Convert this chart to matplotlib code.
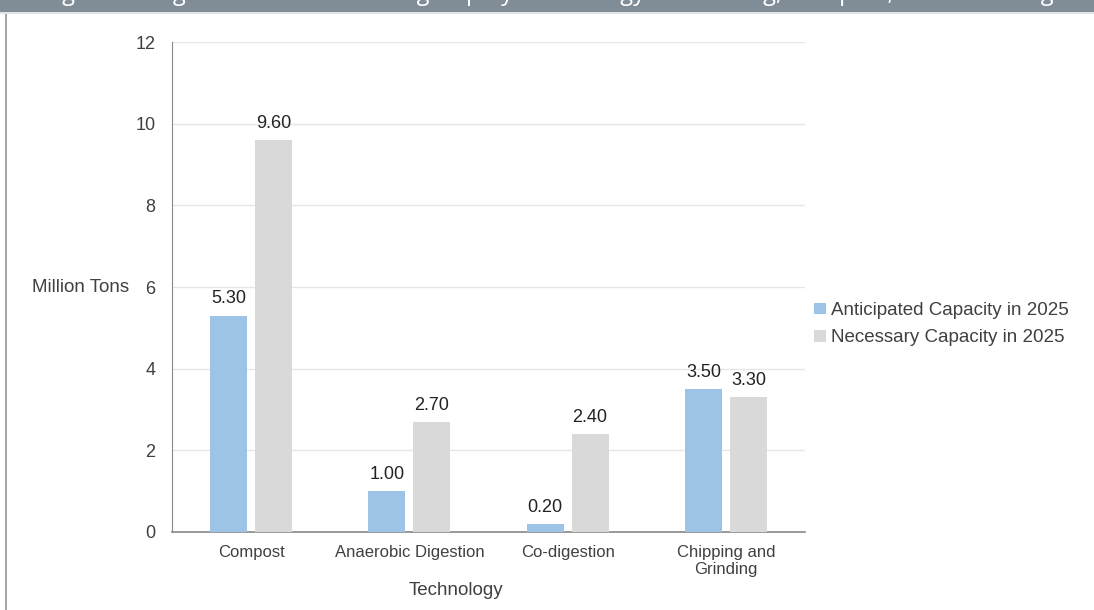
import numpy as np
import matplotlib.pyplot as plt
from matplotlib.patches import Rectangle

plt.rcParams['font.family'] = ['Liberation Sans', 'DejaVu Sans']

# data
technologies = ['Compost', 'Anaerobic Digestion', 'Co-digestion', 'Chipping and\nGrinding']
anticipated = [5.30, 1.00, 0.20, 3.50]
necessary = [9.60, 2.70, 2.40, 3.30]
series_names = ['Anticipated Capacity in 2025', 'Necessary Capacity in 2025']
banner_title = 'Figure 3: Organic Waste Processing Gap by Technology: Processing, Compost, Anaerobic Digestion Gap by Capacity'

blue = '#9dc3e6'
grey = '#d9d9d9'
txt = '#404040'

fig = plt.figure(figsize=(10.94, 6.10), dpi=100)

# banner at the top, text cut off like in the source
fig.patches.append(Rectangle((0, 1 - 12 / 610), 1, 12 / 610, transform=fig.transFigure,
                             facecolor='#818d96', edgecolor='none', zorder=0))
fig.patches.append(Rectangle((0, 1 - 14 / 610), 1, 2 / 610, transform=fig.transFigure,
                             facecolor='#dfe4e8', edgecolor='none', zorder=0))
fig.patches.append(Rectangle((5 / 1094, 0), 2 / 1094, 1 - 14 / 610, transform=fig.transFigure,
                             facecolor='#a0a8b0', edgecolor='none', zorder=0))
fig.text(0.04, 1 + 0.5 / 610, banner_title, color='white', fontsize=17,
         va='baseline', ha='left', family=['Open Sans', 'DejaVu Sans'])

ax = fig.add_axes([172 / 1094, 1 - 532 / 610, 633 / 1094, 490 / 610])

x = np.arange(len(technologies))
w = 0.234
off = 0.142
b1 = ax.bar(x - off, anticipated, w, color=blue, label=series_names[0], zorder=3)
b2 = ax.bar(x + off, necessary, w, color=grey, label=series_names[1], zorder=3)

for bars, vals in [(b1, anticipated), (b2, necessary)]:
    for b, v in zip(bars, vals):
        ax.text(b.get_x() + b.get_width() / 2, v + 0.2, f'{v:.2f}', ha='center', va='bottom',
                fontsize=13, color='#222222')

ax.set_xlim(-0.5, len(technologies) - 0.5)
ax.set_ylim(0, 12)
ax.set_yticks(range(0, 13, 2))
ax.set_xticks(x)
ax.set_xticklabels(technologies, fontsize=12, color=txt, linespacing=1.2)
ax.tick_params(axis='y', labelsize=13, labelcolor=txt, length=0, pad=12)
ax.tick_params(axis='x', length=0, pad=9)

ax.grid(axis='y', color='#e6e6e6', linewidth=1, zorder=0)
for s in ['top', 'right']:
    ax.spines[s].set_visible(False)
ax.spines['left'].set_color('#888888')
ax.spines['bottom'].set_color('#888888')
ax.spines['bottom'].set_linewidth(1.2)

ax.set_xlabel('Technology', fontsize=13.5, color=txt)
ax.xaxis.set_label_coords((456 - 172) / 633, -50 / 490)
ax.set_ylabel('Million Tons', fontsize=13.5, color=txt, rotation=0, ha='right', va='center')
ax.yaxis.set_label_coords(-0.068, 0.5)

ax.legend(loc='center left', bbox_to_anchor=(1.0, 0.424), frameon=False, fontsize=13.5,
          handlelength=0.6, handleheight=0.6, handletextpad=0.3, labelspacing=0.55,
          labelcolor=txt, borderaxespad=0.1)

fig.savefig('out.png', dpi=100)
